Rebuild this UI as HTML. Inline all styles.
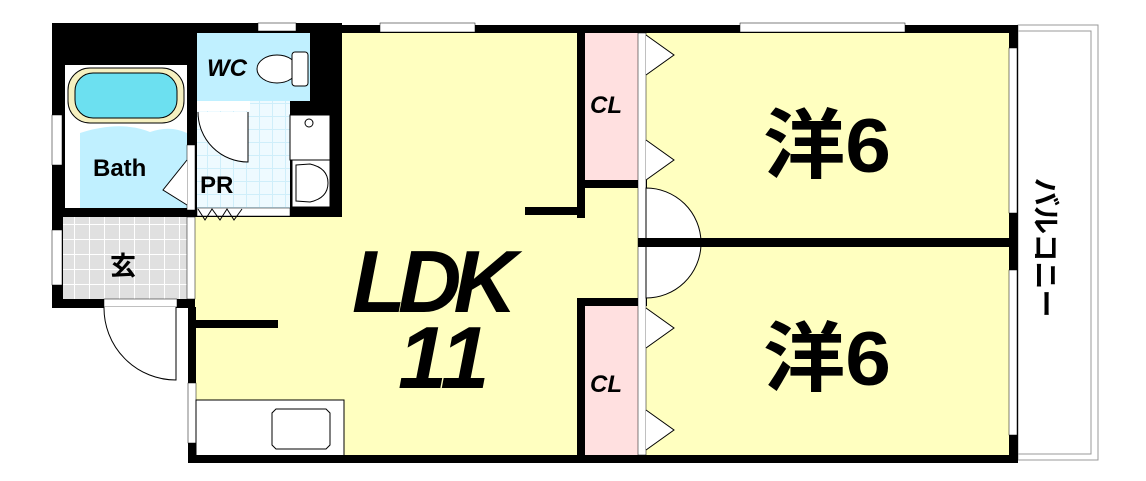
<!DOCTYPE html>
<html><head><meta charset="utf-8"><style>
html,body{margin:0;padding:0;background:#fff;width:1146px;height:481px;overflow:hidden}
svg{display:block}
text{font-family:"Liberation Sans","Noto Sans CJK JP",sans-serif;font-weight:bold;fill:#000}
</style></head><body>
<svg width="1146" height="481" viewBox="0 0 1146 481" xmlns="http://www.w3.org/2000/svg">
<defs>
<pattern id="tile" width="13" height="13" patternUnits="userSpaceOnUse"><rect width="13" height="13" fill="#cfeefa"/><rect width="12" height="12" fill="#eefaff"/></pattern>
<pattern id="gtile" width="15" height="15" patternUnits="userSpaceOnUse"><rect width="15" height="15" fill="#fff"/><rect width="14" height="14" fill="#e0e0e0"/></pattern>
</defs>
<rect x="1018" y="25" width="80" height="435" fill="#fff" stroke="#999" stroke-width="1"/>
<rect x="1018" y="31" width="73" height="423" fill="none" stroke="#999" stroke-width="1"/>
<rect x="188" y="30" width="824" height="430" fill="#ffffc0"/>
<rect x="583" y="33" width="55" height="150" fill="#ffe0e0"/>
<rect x="583" y="305" width="55" height="152" fill="#ffe0e0"/>
<rect x="52" y="23" width="290" height="194" fill="#000"/>
<rect x="65" y="65" width="122" height="143" fill="#fff"/>
<path d="M80 133 Q120 120 150 132 Q170 125 187 133 L187 208 L80 208Z" fill="#c0f0ff"/>
<rect x="68" y="68" width="116" height="55" rx="22" fill="#f5f0c0" stroke="#000"/>
<rect x="75" y="73" width="102" height="45" rx="18" fill="#6ce0f0" stroke="#000"/>
<rect x="197" y="33" width="113" height="68" fill="#c0f0ff"/>
<ellipse cx="277" cy="69" rx="20" ry="14" fill="#fff" stroke="#000"/>
<rect x="292" y="52" width="16" height="34" rx="3" fill="#fff" stroke="#000"/>
<rect x="197" y="101" width="93" height="109" fill="url(#tile)"/>
<rect x="197" y="101" width="53" height="10" fill="#fff"/>
<path d="M198 112 A50 50 0 0 0 248 162 L248 112" fill="#fff" stroke="#000"/>
<rect x="290" y="115" width="40" height="45" fill="#fff" stroke="#000"/>
<circle cx="309" cy="123" r="4" fill="#fff" stroke="#000"/>
<rect x="292" y="160" width="38" height="47" fill="#fff" stroke="#000"/>
<path d="M296 165 L310 164 Q328 168 328 183 Q328 198 310 202 L296 201Z" fill="#fff" stroke="#000"/>
<rect x="187" y="145" width="8" height="65" fill="#fff" stroke="#000" stroke-width="0.5"/>
<path d="M187 160 L163 190 L187 205" fill="#fff" stroke="#000"/>
<rect x="197" y="208" width="93" height="8" fill="#fff" stroke="#000" stroke-width="0.5"/>
<path d="M198 209 L205 220 L212 209 L220 220 L227 209 L234 220 L242 209" fill="none" stroke="#000"/>
<rect x="52" y="115" width="10" height="50" fill="#fff" stroke="#000" stroke-width="0.5"/>
<rect x="258" y="23" width="38" height="8" fill="#fff" stroke="#000" stroke-width="0.5"/>
<rect x="52" y="217" width="143" height="91" fill="#000"/>
<rect x="63" y="217" width="124" height="82" fill="url(#gtile)"/>
<rect x="52" y="230" width="10" height="55" fill="#fff" stroke="#000" stroke-width="0.5"/>
<rect x="187" y="217" width="8" height="82" fill="#fff" stroke="#000" stroke-width="0.5"/>
<rect x="104" y="299" width="73" height="8" fill="#fff" stroke="#000" stroke-width="0.5"/>
<path d="M104 307 A72 72 0 0 0 176 380 L176 307" fill="#fff" stroke="#000"/>
<rect x="188" y="307" width="8" height="155" fill="#000"/>
<rect x="188" y="383" width="8" height="60" fill="#fff" stroke="#000" stroke-width="0.5"/>
<rect x="196" y="320" width="82" height="8" fill="#000"/>
<rect x="196" y="400" width="148" height="57" fill="#fff" stroke="#000"/>
<path d="M276 409 L326 409 L330 413 L330 445 L326 449 L276 449 L272 445 L272 413Z" fill="#fff" stroke="#000"/>
<rect x="188" y="455" width="830" height="8" fill="#000"/>
<rect x="340" y="25" width="678" height="8" fill="#000"/>
<rect x="380" y="23" width="95" height="9" fill="#fff" stroke="#000" stroke-width="0.5"/>
<rect x="740" y="23" width="165" height="9" fill="#fff" stroke="#000" stroke-width="0.5"/>
<rect x="577" y="33" width="8" height="185" fill="#000"/>
<rect x="525" y="207" width="60" height="8" fill="#000"/>
<rect x="577" y="180" width="70" height="8" fill="#000"/>
<rect x="577" y="298" width="70" height="8" fill="#000"/>
<rect x="577" y="298" width="8" height="164" fill="#000"/>
<rect x="638" y="33" width="8" height="422" fill="#fff" stroke="#000" stroke-width="0.5"/>
<path d="M646 35 L674 55 L646 75 M646 140 L674 160 L646 180 M646 308 L674 328 L646 348 M646 410 L674 430 L646 450" fill="#fff" stroke="#000"/>
<path d="M646 188 A55 55 0 0 1 701 242 L646 242Z" fill="#fff" stroke="#000"/>
<path d="M646 245 L701 245 A55 55 0 0 1 646 298Z" fill="#fff" stroke="#000"/>
<rect x="638" y="238" width="380" height="9" fill="#000"/>
<rect x="1009" y="25" width="9" height="437" fill="#000"/>
<rect x="1009" y="48" width="8" height="165" fill="#fff" stroke="#000" stroke-width="0.5"/>
<rect x="1009" y="270" width="8" height="165" fill="#fff" stroke="#000" stroke-width="0.5"/>
<text x="207" y="76" font-size="24" font-style="italic">WC</text>
<text x="93" y="176" font-size="24">Bath</text>
<text x="200" y="193" font-size="24">PR</text>
<text x="110" y="275" font-size="26">玄</text>
<text x="590" y="113" font-size="24" font-style="italic">CL</text>
<text x="590" y="392" font-size="24" font-style="italic">CL</text>
<text x="763" y="172" font-size="76" textLength="128" lengthAdjust="spacingAndGlyphs">洋6</text>
<text x="763" y="385" font-size="76" textLength="128" lengthAdjust="spacingAndGlyphs">洋6</text>
<text x="352" y="312" font-size="88" font-style="italic" textLength="165">LDK</text>
<text x="398" y="388" font-size="88" font-style="italic">11</text>
<text transform="translate(1036,178) rotate(90)" font-size="28">バルコニー</text>
</svg>
</body></html>
